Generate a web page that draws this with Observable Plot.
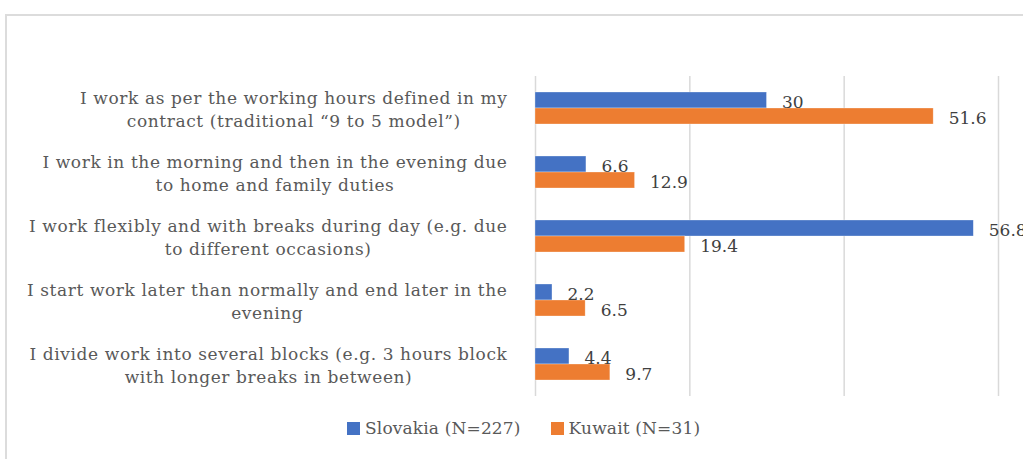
<!DOCTYPE html>
<html>
<head>
<meta charset="utf-8">
<script src="https://cdn.jsdelivr.net/npm/d3@7"></script>
<script src="https://cdn.jsdelivr.net/npm/@observablehq/plot@0.6"></script>
<style>
  html, body { margin: 0; padding: 0; background: #fff; width: 1023px; height: 459px; overflow: hidden; position: relative; }
  #frame { position: absolute; left: 5px; top: 14px; width: 1100px; height: 500px; border: 2px solid #dcdcdc; box-sizing: border-box; }
  #chart { position: absolute; left: 0; top: 0; }
  #legend { position: absolute; left: 347px; top: 418px; display: flex; align-items: center; font-family: 'DejaVu Serif', serif; font-size: 17px; letter-spacing: 0.15px; color: #595959; }
  #legend .item { display: flex; align-items: center; margin-right: 30px; }
  #legend .sw { width: 13px; height: 13px; margin-right: 5px; }
  .cat-label text { letter-spacing: 0.6px; }
</style>
</head>
<body>
<div id="frame"></div>
<div id="chart"></div>
<div id="legend"></div>
<script>
const categories = [
  "I work as per the working hours defined in my\ncontract (traditional “9 to 5 model”)",
  "I work in the morning and then in the evening due\nto home and family duties",
  "I work flexibly and with breaks during day (e.g. due\nto different occasions)",
  "I start work later than normally and end later in the\nevening",
  "I divide work into several blocks (e.g. 3 hours block\nwith longer breaks in between)"
];
const series = ["Slovakia (N=227)", "Kuwait (N=31)"];
const slovakia = [30, 6.6, 56.8, 2.2, 4.4];
const kuwait = [51.6, 12.9, 19.4, 6.5, 9.7];
const colors = ["#4472C4", "#ED7D31"];
const gridTicks = [0, 20, 40, 60];

const data = categories.flatMap((c, i) => [
  {cat: c, series: series[0], value: slovakia[i]},
  {cat: c, series: series[1], value: kuwait[i]}
]);

const font = "'DejaVu Serif', serif";

const plot = Plot.plot({
  width: 1023,
  height: 410,
  marginTop: 76,
  marginBottom: 14,
  marginLeft: 535,
  marginRight: 25,
  style: {fontFamily: font, fontSize: "17px", color: "#595959", background: "transparent"},
  x: {domain: [0, 60], axis: null},
  y: {domain: series, axis: null, paddingInner: 0, paddingOuter: 0.94},
  fy: {domain: categories, padding: 0, axis: null},
  color: {domain: series, range: colors},
  marks: [
    Plot.ruleX(gridTicks, {x: d => d, stroke: "#d9d9d9", strokeWidth: 1.5}),
    Plot.barX(data, {x: "value", y: "series", fy: "cat", fill: "series", stroke: "#ffffff", strokeWidth: 0.6, strokeOpacity: 0.5}),
    Plot.text(data, {x: "value", y: "series", fy: "cat", text: d => String(d.value), textAnchor: "start", dx: 15, dy: 2, fill: "#404040", fontSize: 17}),
    Plot.axisFy({anchor: "left", tickSize: 0, tickPadding: 28, label: null, lineHeight: 1.35, fontSize: 17, fill: "#595959", className: "cat-label"})
  ]
});
document.getElementById("chart").appendChild(plot);

// center each multi-line category label within its own block, right-aligned as a block
plot.querySelectorAll('g[aria-label="fy-axis tick label"] text').forEach(t => {
  t.style.letterSpacing = "0.6px";
  const w = t.getBBox().width;
  t.setAttribute("text-anchor", "middle");
  const tr = t.getAttribute("transform") || "";
  t.setAttribute("transform", tr + ` translate(${-w / 2},0)`);
});

const legend = document.getElementById("legend");
series.forEach((s, i) => {
  const item = document.createElement("div");
  item.className = "item";
  const sw = document.createElement("div");
  sw.className = "sw";
  sw.style.background = colors[i];
  const lab = document.createElement("span");
  lab.textContent = s;
  item.appendChild(sw);
  item.appendChild(lab);
  legend.appendChild(item);
});
</script>
</body>
</html>
